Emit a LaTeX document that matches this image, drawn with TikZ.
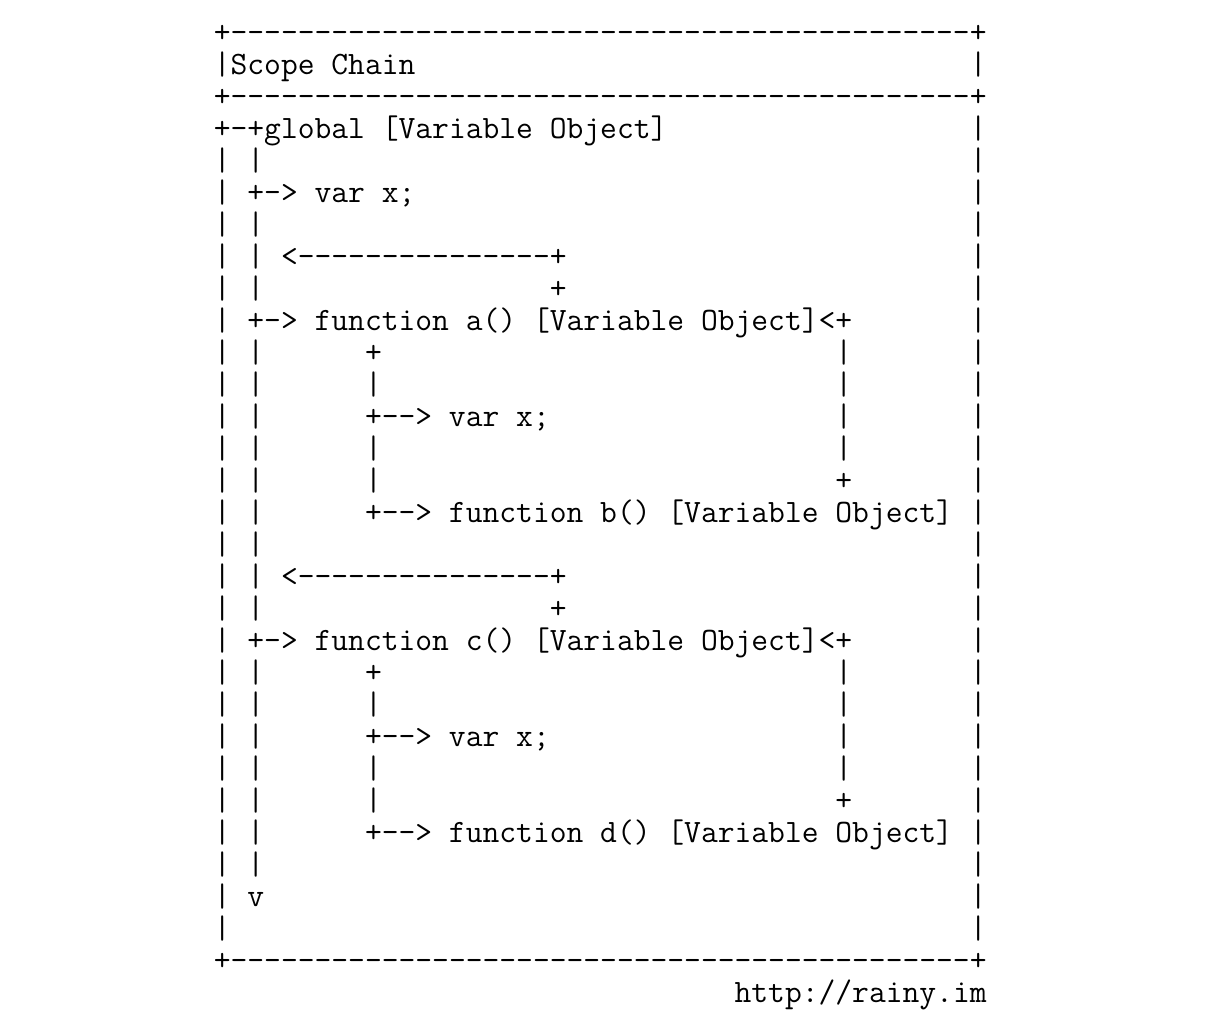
\documentclass[tikz,border=0pt]{standalone}
\usepackage{fontspec}
\usetikzlibrary{calc}
\newlength\charw
\AtBeginDocument{%
  \settowidth{\charw}{\ttfamily\fontsize{32}{32}\selectfont M}%
  \pgfmathsetmacro\asciisize{32*16.8/\charw}}
\newcommand\dashes[1]{\foreach \i in {1,...,#1}{-}}
\tikzstyle{ascii} = [anchor=base west, inner sep=0pt, font=\ttfamily\fontsize{\asciisize}{32}\selectfont]

\begin{document}
\begin{tikzpicture}[x=16.8pt, y=-32pt, shift={(213.6pt,-10pt)}]
  \useasboundingbox (-213.6pt,10pt) rectangle (997.4pt,-1018pt);
  % frame
  \node (top) [ascii] at (0,1) {+\dashes{44}+};
  \node (title) [ascii] at (0,2) {|Scope Chain};
  \node (sep) [ascii] at (0,3) {+\dashes{44}+};
  \node (global) [ascii] at (0,4) {+-+global [Variable Object]};
  \node (bottom) [ascii] at (0,30) {+\dashes{44}+};
  \node (url) [ascii] at (31,31) {http://rainy.im};
  \foreach \r in {2,4,5,...,29} \node (right\r) [ascii] at (45,\r) {|};
  \foreach \r in {5,...,29} \node (left\r) [ascii] at (0,\r) {|};
  % global chain
  \foreach \r in {5,7,8,9,11,12,...,19,21,22,...,27} \node (chain\r) [ascii] at (2,\r) {|};
  \node (gx) [ascii] at (2,6) {+-> var x;};
  \node (end) [ascii] at (2,28) {v};
  % function blocks
  \foreach \f/\g/\o in {a/b/0, c/d/10} {
    \node (back\f) [ascii] at (4,8+\o) {<\dashes{15}+};
    \node (up\f) [ascii] at (20,9+\o) {+};
    \node (fn\f) [ascii] at (2,10+\o) {+-> function \f() [Variable Object]<+};
    \node (in\f) [ascii] at (9,11+\o) {+};
    \node (ret\f) [ascii] at (37,11+\o) {|};
    \node [ascii] at (9,12+\o) {|};
    \node [ascii] at (37,12+\o) {|};
    \node (x\f) [ascii] at (9,13+\o) {+--> var x;};
    \node [ascii] at (37,13+\o) {|};
    \node [ascii] at (9,14+\o) {|};
    \node [ascii] at (37,14+\o) {|};
    \node [ascii] at (9,15+\o) {|};
    \node (from\g) [ascii] at (37,15+\o) {+};
    \node (fn\g) [ascii] at (9,16+\o) {+--> function \g() [Variable Object]};
  }
\end{tikzpicture}
\end{document}
